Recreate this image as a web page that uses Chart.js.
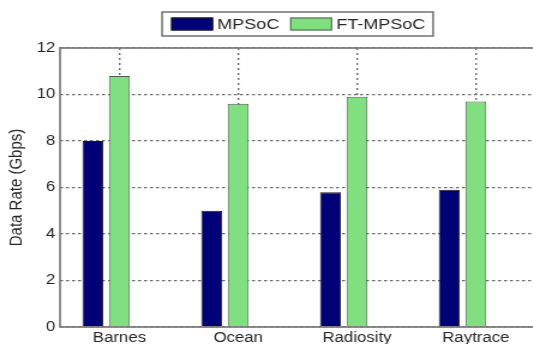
<!DOCTYPE html>
<html>
<head>
<meta charset="utf-8">
<script src="https://cdn.jsdelivr.net/npm/chart.js@4"></script>
<style>
  html, body { margin: 0; padding: 0; background: #fff; overflow: hidden; width: 533px; height: 344px; }
  /* the figure is drawn slightly widened horizontally */
  #wrap { position: absolute; left: 0; top: 0; width: 446px; height: 344px; transform: scaleX(1.2); transform-origin: 0 0; }
</style>
</head>
<body>
<div id="wrap"><canvas id="chart"></canvas></div>
<script>
// Benchmarks on the x axis
const categories = ['Barnes', 'Ocean', 'Radiosity', 'Raytrace'];
// Data rate in Gbps for each architecture
const mpsocRate = [8.0, 5.0, 5.8, 5.9];
const ftMpsocRate = [10.8, 9.6, 9.9, 9.7];
// empty third slot of each group (keeps the grouped-bar spacing)
const emptySlot = [0, 0, 0, 0];
const yTicks = [0, 2, 4, 6, 8, 10, 12];

const FONT = '"Liberation Sans", Arial, Helvetica, sans-serif';
const FRAME = '#7a7a7a';
const GRID = '#6a6a6a';
const TEXT = '#262626';

// boxed legend drawn above the axes
const boxLegend = {
  id: 'boxLegend',
  afterDraw(chart) {
    const ctx = chart.ctx;
    const items = chart.data.datasets.filter(d => d.inLegend);
    ctx.save();
    ctx.font = '15px ' + FONT;
    const sw = 35, swH = 13, gap = 3.5, padL = 7.5, padR = 6.5, between = 9;
    const widths = items.map(d => ctx.measureText(d.label).width);
    const total = padL + padR + items.length * (sw + gap) +
      widths.reduce((a, b) => a + b, 0) + between * (items.length - 1);
    const ca = chart.chartArea;
    const x0 = (ca.left + ca.right) / 2 - total / 2;
    const top = 12, h = 24, mid = top + h / 2;
    ctx.fillStyle = '#fff';
    ctx.fillRect(x0, top, total, h);
    ctx.strokeStyle = FRAME;
    ctx.lineWidth = 1.6;
    ctx.strokeRect(x0, top, total, h);
    let x = x0 + padL;
    items.forEach((d, i) => {
      ctx.fillStyle = d.backgroundColor;
      ctx.fillRect(x, mid - swH / 2, sw, swH);
      ctx.strokeStyle = d.borderColor;
      ctx.lineWidth = 1;
      ctx.strokeRect(x + 0.5, mid - swH / 2 + 0.5, sw - 1, swH - 1);
      x += sw + gap;
      ctx.fillStyle = TEXT;
      ctx.textBaseline = 'alphabetic';
      ctx.fillText(d.label, x, mid + 4.5);
      x += widths[i] + between;
    });
    ctx.restore();
  }
};

// solid box around the plotting area
const axesFrame = {
  id: 'axesFrame',
  afterDatasetsDraw(chart) {
    const { ctx, chartArea: a } = chart;
    ctx.save();
    ctx.strokeStyle = FRAME;
    ctx.lineWidth = 1.7;
    ctx.strokeRect(a.left, a.top, a.right - a.left, a.bottom - a.top);
    ctx.restore();
  }
};

new Chart(document.getElementById('chart'), {
  type: 'bar',
  data: {
    labels: categories,
    datasets: [
      { label: 'MPSoC', data: mpsocRate, backgroundColor: '#000078', borderColor: '#1a1a1a', borderWidth: 1, inLegend: true },
      { label: 'FT-MPSoC', data: ftMpsocRate, backgroundColor: '#80E080', borderColor: '#4f5f4f', borderWidth: 1, inLegend: true },
      { label: 'empty', data: emptySlot, backgroundColor: 'rgba(0,0,0,0)', borderWidth: 0, inLegend: false }
    ]
  },
  options: {
    responsive: true,
    maintainAspectRatio: false,
    animation: false,
    devicePixelRatio: 1,
    layout: { padding: { top: 48, left: 0, right: 0, bottom: 0 } },
    datasets: { bar: { categoryPercentage: 0.67, barPercentage: 0.79 } },
    plugins: { legend: { display: false }, tooltip: { enabled: false } },
    scales: {
      x: {
        offset: true,
        grid: { display: true, offset: false, drawTicks: false, color: GRID, lineWidth: 1.4 },
        border: { display: false, dash: [2, 3] },
        ticks: { color: TEXT, font: { family: FONT, size: 14 }, padding: 3, maxRotation: 0 },
        afterFit(scale) { scale.height = 17; }
      },
      y: {
        min: 0,
        max: 12,
        afterBuildTicks(scale) { scale.ticks = yTicks.map(v => ({ value: v })); },
        grid: { drawTicks: false, color: GRID, lineWidth: 1.2 },
        border: { display: false, dash: [2.5, 2.5] },
        ticks: { color: TEXT, font: { family: FONT, size: 14 }, padding: 4 },
        title: { display: true, text: 'Data Rate (Gbps)', color: TEXT, font: { family: FONT, size: 15 }, padding: { top: 5, bottom: 0 } },
        afterFit(scale) { scale.width = 50; }
      }
    }
  },
  plugins: [boxLegend, axesFrame]
});
</script>
</body>
</html>
